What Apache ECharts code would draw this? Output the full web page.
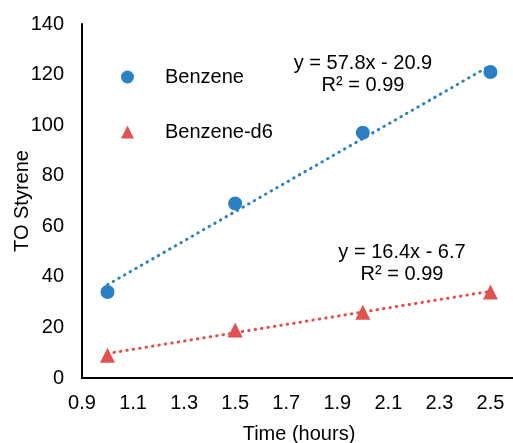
<!DOCTYPE html>
<html>
<head>
<meta charset="utf-8">
<script src="https://cdn.jsdelivr.net/npm/echarts@6/dist/echarts.min.js"></script>
<style>
  html, body { margin: 0; padding: 0; background: #fff; }
  #chart { width: 513px; height: 443px; }
</style>
</head>
<body>
<div id="chart"></div>
<script>
// measured points
var benzene = [[1.0, 34], [1.5, 69], [2.0, 97], [2.5, 121]];
var benzeneD6 = [[1.0, 9], [1.5, 19], [2.0, 26], [2.5, 34]];
// trendline ends, read from the fitted equations shown on the chart
var benzeneFit = [[1.0, 36.9], [2.5, 123.6]];
var benzeneD6Fit = [[1.0, 9.7], [2.5, 34.3]];
var benzeneEq = ['y = 57.8x - 20.9', 'R² = 0.99'];
var benzeneD6Eq = ['y = 16.4x - 6.7', 'R² = 0.99'];

var blue = '#2b80c4';
var red = '#e05252';
var font = 'Liberation Sans, Arial, sans-serif';

var chart = echarts.init(document.getElementById('chart'));
chart.setOption({
    animation: false,
    textStyle: { fontFamily: font },
    grid: { left: 82, right: -3, top: 24, bottom: 65, outerBoundsMode: 'none', containLabel: false },
    legend: {
        orient: 'vertical',
        left: 116,
        top: 62,
        itemGap: 35,
        itemWidth: 13,
        itemHeight: 13,
        data: ['Benzene', 'Benzene-d6'],
        textStyle: { fontSize: 20, color: '#000', fontFamily: font, padding: [0, 0, 0, 26] }
    },
    xAxis: {
        type: 'value',
        min: 0.9,
        max: 2.6,
        interval: 0.2,
        name: 'Time (hours)',
        nameLocation: 'middle',
        nameGap: 46,
        nameMoveOverlap: false,
        nameTextStyle: { fontSize: 20, color: '#000' },
        axisLine: { show: true, lineStyle: { color: '#000', width: 2 } },
        axisTick: { show: false },
        splitLine: { show: false },
        axisLabel: {
            fontSize: 20, color: '#000', margin: 15, showMaxLabel: false,
            formatter: function (v) { return v.toFixed(1); }
        }
    },
    yAxis: {
        type: 'value',
        min: 0,
        max: 140,
        interval: 20,
        name: 'TO Styrene',
        nameLocation: 'middle',
        nameGap: 50,
        nameMoveOverlap: false,
        nameTextStyle: { fontSize: 20, color: '#000' },
        axisLine: { show: true, lineStyle: { color: '#000', width: 2 } },
        axisTick: { show: false },
        splitLine: { show: false },
        axisLabel: { fontSize: 20, color: '#000', margin: 18 }
    },
    graphic: [
        { type: 'text', x: 363, y: 52, style: { text: benzeneEq.join('\n'), font: '20px ' + font, fill: '#000', align: 'center', lineHeight: 22 } },
        { type: 'text', x: 402, y: 241, style: { text: benzeneD6Eq.join('\n'), font: '20px ' + font, fill: '#000', align: 'center', lineHeight: 22 } }
    ],
    series: [
        {
            name: 'Benzene fit', type: 'line', data: benzeneFit, symbol: 'none', silent: true,
            lineStyle: { color: blue, width: 3, type: [0.5, 6], cap: 'round' }
        },
        {
            name: 'Benzene-d6 fit', type: 'line', data: benzeneD6Fit, symbol: 'none', silent: true,
            lineStyle: { color: red, width: 3, type: [0.5, 6], cap: 'round' }
        },
        {
            name: 'Benzene', type: 'scatter', data: benzene, symbol: 'circle', symbolSize: 14,
            itemStyle: { color: blue, opacity: 1 }
        },
        {
            name: 'Benzene-d6', type: 'scatter', data: benzeneD6, symbol: 'triangle', symbolSize: 15,
            itemStyle: { color: red, opacity: 1 }
        }
    ]
});
</script>
</body>
</html>
